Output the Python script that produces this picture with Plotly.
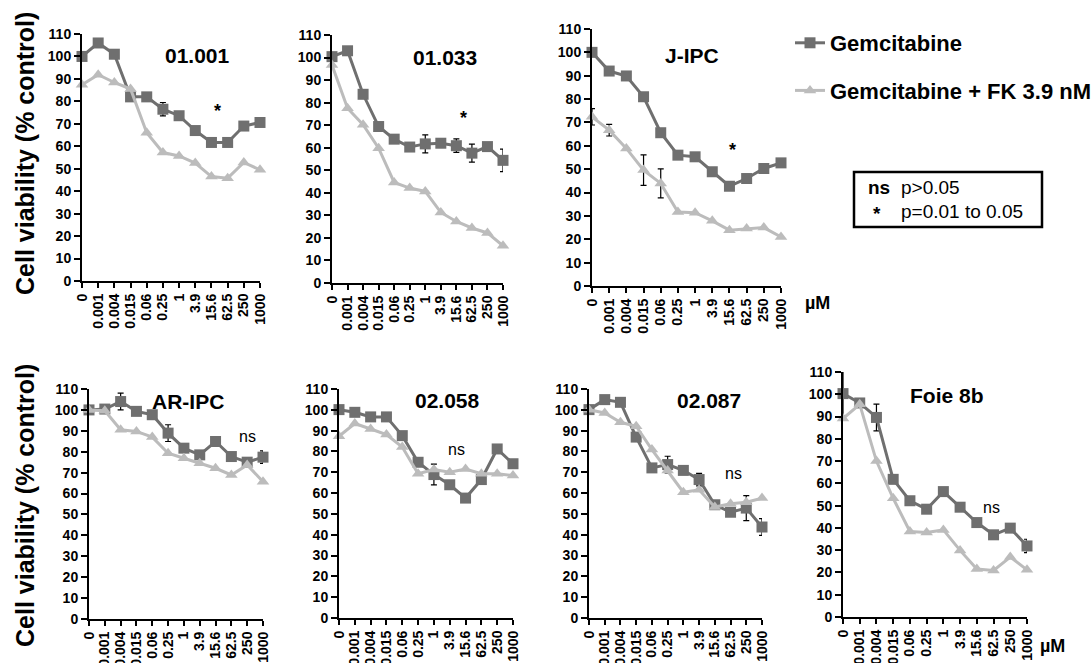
import plotly.graph_objects as go

W, H = 1092, 663
FONT = "Liberation Sans, Arial, sans-serif"

# ---------------- data ----------------
doses = ["0", "0.001", "0.004", "0.015", "0.06", "0.25", "1", "3.9", "15.6", "62.5", "250", "1000"]
panel_names = ["01.001", "01.033", "J-IPC", "AR-IPC", "02.058", "02.087", "Foie 8b"]
series_names = ["Gemcitabine", "Gemcitabine + FK 3.9 nM"]

gem_01001 = [100, 106, 101, 82, 82, 76.5, 73.6, 67, 61.7, 61.7, 69, 70.6]
fk_01001 = [87.4, 91.9, 88.4, 85.5, 66, 57.2, 55.7, 52.5, 46.5, 45.8, 52.8, 49.5]
gem_01033 = [100.4, 103, 83.7, 69.4, 63.8, 60.3, 61.7, 62, 60.9, 57.6, 60.5, 54.4]
fk_01033 = [96.7, 77.5, 70.2, 59.8, 44.6, 42.1, 40.6, 31.3, 27.3, 24.4, 22.2, 16.5]
gem_jipc = [100, 92, 89.9, 81, 65.6, 56, 55.3, 48.9, 42.7, 46, 50.3, 52.7]
fk_jipc = [72.4, 66.7, 58.9, 49.6, 43.9, 31.7, 31.4, 27.9, 23.9, 24.6, 25, 21]
gem_aripc = [100, 100.4, 104, 99.3, 97.7, 88.9, 81.7, 78.5, 84.9, 77.7, 75, 77.4]
fk_aripc = [100, 99.6, 90.5, 89.7, 87, 79.3, 76.9, 74.5, 72.1, 68.9, 73.7, 65.7]
gem_02058 = [100.1, 98.8, 96.6, 96.6, 87.6, 74.8, 68.9, 64, 57.6, 66.5, 81.2, 74.1]
fk_02058 = [87.3, 93.4, 90.8, 88.1, 82.1, 69.3, 71.3, 70, 71.6, 69.3, 69.3, 68.4]
gem_02087 = [100.1, 104.9, 103.6, 86.9, 72.1, 73.7, 70.9, 66.5, 54.4, 50.8, 52.8, 43.7]
fk_02087 = [100, 98.5, 94, 92.1, 80.9, 70.9, 60.4, 61.6, 53.3, 54.9, 55.6, 57.6]
gem_foie8b = [100.3, 96.1, 89.6, 61.8, 52.2, 48.4, 56.3, 49.3, 42.4, 36.9, 39.9, 31.9]
fk_foie8b = [89.1, 95.5, 70, 53.3, 38.4, 37.9, 39.1, 29.9, 21.5, 20.9, 26.9, 21.2]

N = None
err_gem_01001 = [N, N, N, N, N, 3, N, N, N, N, N, N]
err_fk_01001 = [N] * 12
err_gem_01033 = [N, N, N, N, N, N, 4, N, 3, 4, N, 5]
err_fk_01033 = [N] * 12
err_gem_jipc = [N] * 12
err_fk_jipc = [3.5, 2.5, N, 6.5, 6.2, N, N, N, N, N, N, N]
err_gem_aripc = [N, N, 4, N, N, 4, N, N, N, N, N, 3]
err_fk_aripc = [N] * 12
err_gem_02058 = [N, N, N, N, N, N, 5, N, N, N, N, N]
err_fk_02058 = [N] * 12
err_gem_02087 = [N, N, N, N, N, 4, N, 3, N, N, 6, 4]
err_fk_02087 = [N] * 12
err_gem_foie8b = [10, N, 6, N, N, N, N, N, N, N, N, 3]
err_fk_foie8b = [N] * 12

sig_labels = ["*", "*", "*", "ns", "ns", "ns", "ns"]

gem_all = [gem_01001, gem_01033, gem_jipc, gem_aripc, gem_02058, gem_02087, gem_foie8b]
fk_all = [fk_01001, fk_01033, fk_jipc, fk_aripc, fk_02058, fk_02087, fk_foie8b]
err_gem_all = [err_gem_01001, err_gem_01033, err_gem_jipc, err_gem_aripc, err_gem_02058, err_gem_02087, err_gem_foie8b]
err_fk_all = [err_fk_01001, err_fk_01033, err_fk_jipc, err_fk_aripc, err_fk_02058, err_fk_02087, err_fk_foie8b]

# ---------------- layout (pixel geometry) ----------------
boxes = [(82, 260, 34, 281), (332, 503, 35, 283), (592, 781, 29, 286),
         (89, 263, 389, 619), (339, 513, 389, 618), (589, 762, 389, 618), (843, 1027, 372, 617)]
title_pos = [(197, 55), (445, 57), (692, 55), (188, 401), (447, 400), (709, 400), (947, 395)]
sig_pos = [(8.4, 75.5), (8.45, 73), (8.15, 58), (10.05, 87.5), (7.4, 81), (9.2, 69.6), (8.9, 49)]

DARK = "#6f6f6f"
LIGHT = "#bcbcbc"


def px_x(x):
    return x / W


def px_y(y):
    return 1 - y / H


def ann(x, y, text, size, xanchor="center", **kw):
    d = dict(x=x, y=y, xref="paper", yref="paper", text=text, showarrow=False,
             xanchor=xanchor, yanchor="middle",
             font=dict(family=FONT, size=size, color="black"))
    d.update(kw)
    return d


fig = go.Figure()
annotations = []
layout_axes = {}
tickfont = dict(family=FONT, size=14, color="black", weight="bold")

for i in range(7):
    k = "" if i == 0 else str(i + 1)
    xa, ya = "x" + k, "y" + k
    xs = list(range(len(doses)))
    for vals, errs, col, sym, name in [
        (gem_all[i], err_gem_all[i], DARK, "square", series_names[0]),
        (fk_all[i], err_fk_all[i], LIGHT, "triangle-up", series_names[1]),
    ]:
        fig.add_trace(go.Scatter(
            x=xs, y=vals, xaxis=xa, yaxis=ya, mode="lines+markers",
            name="<b>" + name + "</b>", legendgroup=name, showlegend=(i == 0),
            line=dict(color=col, width=3),
            marker=dict(symbol=sym, size=11, color=col),
            error_y=dict(type="data", array=errs, visible=True, color="black",
                         thickness=1.2, width=3),
            cliponaxis=False,
        ))
    l, r, t, b = boxes[i]
    xdom = [px_x(l), px_x(r)]
    ydom = [px_y(b), px_y(t)]
    common = dict(showline=True, linecolor="black", linewidth=2, tickcolor="black",
                  tickwidth=2, showgrid=False, zeroline=False)
    layout_axes["xaxis" + k] = dict(
        domain=xdom, anchor=ya, range=[0, 11],
        tickmode="array", tickvals=xs, ticktext=doses, tickangle=-90,
        ticks="outside", ticklen=5, tickfont=tickfont, **common)
    layout_axes["yaxis" + k] = dict(
        domain=ydom, anchor=xa, range=[0, 110],
        tickmode="linear", tick0=0, dtick=10,
        ticks="outside", ticklen=6, tickfont=tickfont, **common)
    # overlay axes to draw the inner half of the crossing tick marks
    ko = str(i + 8)
    layout_axes["xaxis" + ko] = dict(
        domain=xdom, anchor="y" + k, overlaying=xa, range=[0, 11],
        tickmode="array", tickvals=xs, ticks="inside", ticklen=5,
        showticklabels=False, **common)
    layout_axes["yaxis" + ko] = dict(
        domain=ydom, anchor=xa, overlaying=ya, range=[0, 110],
        tickmode="linear", tick0=0, dtick=10, ticks="inside", ticklen=3,
        showticklabels=False, **common)

    tx, ty = title_pos[i]
    annotations.append(ann(px_x(tx), px_y(ty), "<b>" + panel_names[i] + "</b>", 21))
    sx, sy = sig_pos[i]
    lab = sig_labels[i]
    annotations.append(dict(x=sx, y=sy, xref=xa, yref=ya, showarrow=False,
                            xanchor="center", yanchor="middle",
                            text=("<b>*</b>" if lab == "*" else lab),
                            font=dict(family=FONT, size=(18 if lab == "*" else 16), color="black")))

# y-axis titles
for cy in (154, 506):
    annotations.append(ann(px_x(25), px_y(cy), "<b>Cell viability (% control)</b>", 25,
                           textangle=-90))

# µM unit labels
for ux, uy in ((817, 303), (1052, 646)):
    annotations.append(ann(px_x(ux), px_y(uy), "<b>µM</b>", 18))

# significance key box
annotations += [
    ann(px_x(866), px_y(187), "<b>ns</b>", 19, xanchor="left"),
    ann(px_x(899), px_y(187), "p>0.05", 19, xanchor="left"),
    ann(px_x(877), px_y(214), "<b>*</b>", 19),
    ann(px_x(899), px_y(211), "p=0.01 to 0.05", 19, xanchor="left"),
]
shapes = [dict(type="rect", xref="paper", yref="paper",
               x0=px_x(854), x1=px_x(1042), y0=px_y(227), y1=px_y(172),
               line=dict(color="black", width=2.5))]

fig.update_layout(
    width=W, height=H, margin=dict(l=0, r=0, t=0, b=0, autoexpand=False),
    paper_bgcolor="white", plot_bgcolor="white",
    annotations=annotations, shapes=shapes,
    showlegend=True,
    legend=dict(x=px_x(790), y=px_y(22), xanchor="left", yanchor="top",
                font=dict(family=FONT, size=22, color="black"),
                tracegroupgap=16, bgcolor="rgba(0,0,0,0)", borderwidth=0),
    **layout_axes,
)

fig.write_html("out.html",
               config={"displayModeBar": False},
               post_script="document.body.style.margin='0px';"
                           "document.body.style.overflow='hidden';")
